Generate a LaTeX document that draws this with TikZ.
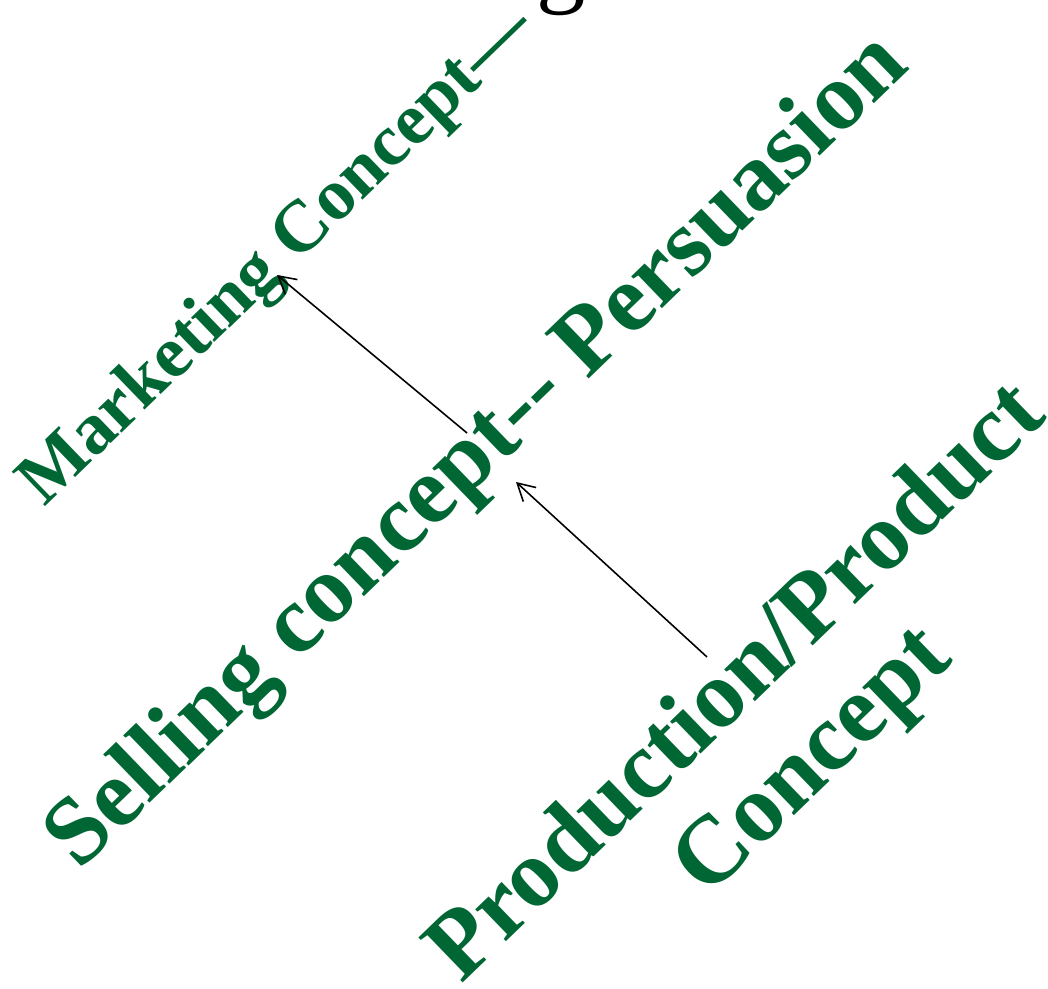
\documentclass[tikz,border=0pt]{standalone}
\usepackage{fontspec}
\setmainfont{Liberation Serif}
\usetikzlibrary{arrows.meta}
\definecolor{verdemkt}{HTML}{006633}
\tikzset{
  concepto/.style={text=verdemkt, rotate=44, inner sep=0pt},
  paso/.style={-{Straight Barb[length=1.7mm,width=1.9mm]}, line width=0.45pt},
}

\begin{document}
\begin{tikzpicture}[x=0.01cm,y=0.01cm]
    \useasboundingbox (0,0) rectangle (1048,989);
    \clip (0,0) rectangle (1048,989);
    % Conceptos
    \node[concepto, anchor=base west, font=\fontsize{20.8}{25}\selectfont\bfseries] (mkt) at (44,481) {Marketing Concept---};
    \node[concepto, anchor=base west, font=\fontsize{27.4}{31}\selectfont\bfseries] (sel) at (79,117) {Selling concept-{}- Persuasion};
    \node[concepto, align=center, font=\fontsize{27.4}{31}\selectfont\bfseries] (prod) at (777,265) {Production/Product\\Concept};
    \node[anchor=base, font=\fontsize{28}{30}\selectfont] (sig) at (561,994) {g};
    % Flechas
    \coordinate (mktpunta) at (277,714);
    \coordinate (selcola) at (467,556);
    \coordinate (selpunta) at (516,507);
    \coordinate (prodcola) at (707,332);
    \draw[paso] (selcola) -- (mktpunta);
    \draw[paso] (prodcola) -- (selpunta);
\end{tikzpicture}
\end{document}
